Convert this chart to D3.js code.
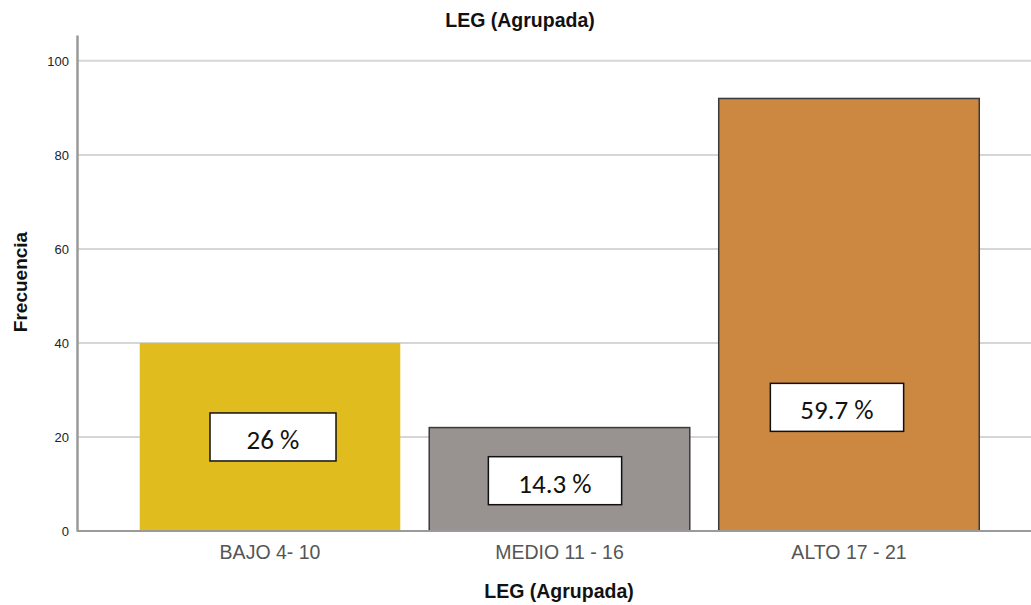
<!DOCTYPE html>
<html>
<head>
<meta charset="utf-8">
<script src="https://cdn.jsdelivr.net/npm/d3@7"></script>
<style>
  html, body { margin: 0; padding: 0; background: #fff; }
  svg { display: block; }
</style>
</head>
<body>
<svg id="chart" width="1031" height="605"></svg>
<script>
// Frequency of each LEG group
const categories = ["BAJO 4- 10", "MEDIO 11 - 16", "ALTO 17 - 21"];
const frecuencias = [40, 22, 92];
const porcentajes = ["26 %", "14.3 %", "59.7 %"];
// Height (in frequency units) where each percentage box is centred
const labelAt = [20, 10.7, 26.3];
const yTicks = [0, 20, 40, 60, 80, 100];

const colors = ["#E0BC1F", "#989391", "#CC8741"];
const strokes = ["none", "#3a3a3a", "#3a3a3a"];

const svg = d3.select("#chart");
const W = 1031, H = 605;
const left = 77, baseY = 531;
const sans = "Liberation Sans, Arial, sans-serif";

const x = d3.scaleBand()
  .domain(categories)
  .range([left, 1042])
  .paddingInner(0.1)
  .paddingOuter(0.2167);

const y = d3.scaleLinear()
  .domain([0, 105.5])
  .range([baseY, 35]);

// Gridlines
svg.append("g")
  .selectAll("line")
  .data(yTicks.filter(d => d > 0))
  .join("line")
  .attr("x1", left).attr("x2", W)
  .attr("y1", d => y(d)).attr("y2", d => y(d))
  .attr("stroke", "#d6d6d6")
  .attr("stroke-width", 2);

// Bars
svg.append("g")
  .selectAll("rect")
  .data(categories)
  .join("rect")
  .attr("x", d => x(d))
  .attr("y", (d, i) => y(frecuencias[i]))
  .attr("width", x.bandwidth())
  .attr("height", (d, i) => baseY - y(frecuencias[i]))
  .attr("fill", (d, i) => colors[i])
  .attr("stroke", (d, i) => strokes[i])
  .attr("stroke-width", 1.5);

// Y axis
const yAxis = d3.axisLeft(y).tickValues(yTicks).tickSize(0).tickPadding(8);
const gy = svg.append("g").attr("transform", `translate(${left},0)`).call(yAxis);
gy.select(".domain").attr("stroke", "#9a9a9a").attr("stroke-width", 2.5);
gy.selectAll("text")
  .attr("font-family", sans)
  .attr("font-size", 13)
  .attr("fill", "#222");

// X axis baseline and category labels
const xAxis = d3.axisBottom(x).tickSize(0).tickPadding(14);
const gx = svg.append("g").attr("transform", `translate(0,${baseY})`).call(xAxis);
gx.select(".domain").remove();
gx.selectAll("text")
  .attr("font-family", sans)
  .attr("font-size", 19.5)
  .attr("fill", "#555");
svg.append("line")
  .attr("x1", left).attr("x2", W)
  .attr("y1", baseY).attr("y2", baseY)
  .attr("stroke", "#9a9a9a").attr("stroke-width", 2);

// Percentage boxes
const boxOffset = [3, -4.5, -12];
const lab = svg.append("g")
  .selectAll("g")
  .data(categories)
  .join("g")
  .attr("transform", (d, i) =>
    `translate(${x(d) + x.bandwidth() / 2 + boxOffset[i]},${y(labelAt[i])})`);
lab.append("text")
  .attr("text-anchor", "middle")
  .attr("y", 12)
  .attr("font-family", "Carlito, Calibri, 'Open Sans', sans-serif")
  .attr("font-size", 27)
  .attr("fill", "#111")
  .text((d, i) => porcentajes[i]);
lab.each(function () {
  const g = d3.select(this);
  const bb = g.select("text").node().getBBox();
  const w = Math.max(bb.width + 60, 126), h = 48;
  g.insert("rect", "text")
    .attr("x", -w / 2).attr("y", -h / 2)
    .attr("width", w).attr("height", h)
    .attr("fill", "#fff")
    .attr("stroke", "#111")
    .attr("stroke-width", 1.5);
});

// Titles
svg.append("text")
  .attr("x", 520).attr("y", 27)
  .attr("text-anchor", "middle")
  .attr("font-family", sans)
  .attr("font-weight", "bold")
  .attr("font-size", 19.5)
  .attr("fill", "#111")
  .text("LEG (Agrupada)");

svg.append("text")
  .attr("x", 559).attr("y", 598)
  .attr("text-anchor", "middle")
  .attr("font-family", sans)
  .attr("font-weight", "bold")
  .attr("font-size", 19.5)
  .attr("fill", "#111")
  .text("LEG (Agrupada)");

svg.append("text")
  .attr("transform", "translate(27,282) rotate(-90)")
  .attr("text-anchor", "middle")
  .attr("font-family", sans)
  .attr("font-weight", "bold")
  .attr("font-size", 19)
  .attr("fill", "#111")
  .text("Frecuencia");
</script>
</body>
</html>
